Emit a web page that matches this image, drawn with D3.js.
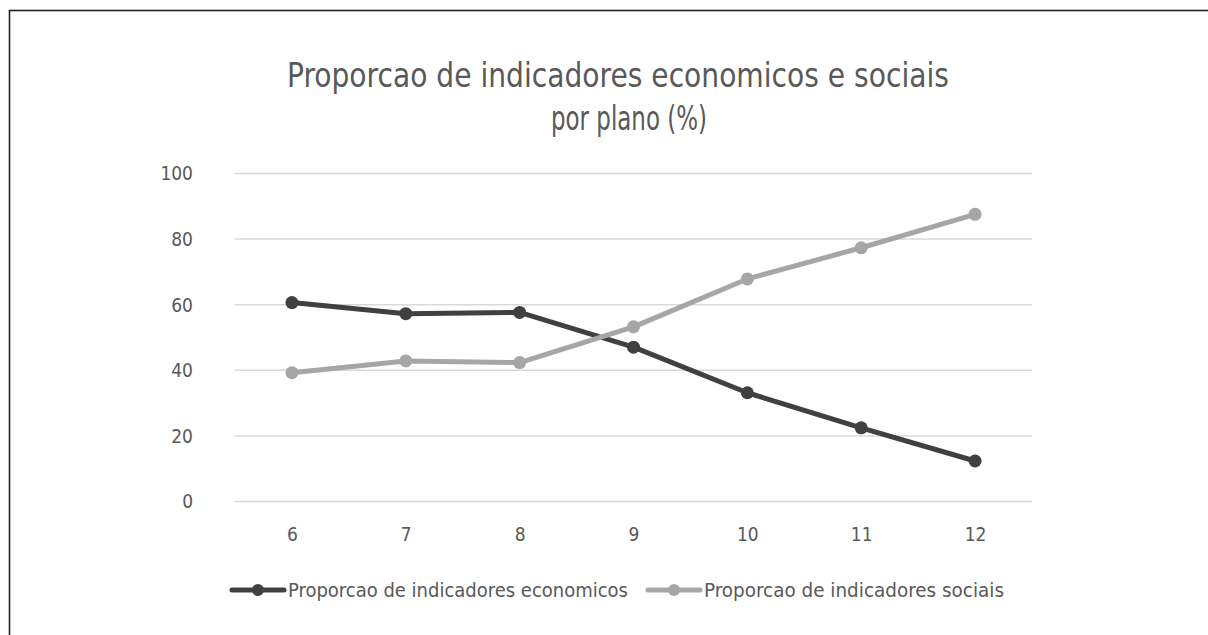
<!DOCTYPE html>
<html><head><meta charset="utf-8">
<script src="https://cdn.jsdelivr.net/npm/d3@7"></script>
<style>body{margin:0;background:#fff;}svg{display:block;}</style>
</head><body>
<svg id="c" width="1208" height="635"></svg>
<script>
const categories = ["6","7","8","9","10","11","12"];
const economicos = [60.5, 57.1, 57.5, 46.9, 33.0, 22.3, 12.2];
const sociais = [39.1, 42.7, 42.2, 53.1, 67.7, 77.2, 87.4];
const yTicks = [0, 20, 40, 60, 80, 100];
const seriesNames = ["Proporcao de indicadores economicos", "Proporcao de indicadores sociais"];
const titleLines = ["Proporcao de indicadores economicos e sociais", "por plano (%)"];

const svg = d3.select("#c");
const font = "'Liberation Sans Narrow', 'DejaVu Sans Condensed', 'Open Sans', sans-serif";
const txt = "#595959";

svg.append("rect").attr("x", 9.5).attr("y", 10.5).attr("width", 1250).attr("height", 700)
  .attr("fill", "#fff").attr("stroke", "#222").attr("stroke-width", 1.6);

const x = d3.scalePoint().domain(categories).range([235, 1032]).padding(0.5);
const y = d3.scaleLinear().domain([0, 100]).range([501, 173]);

const yAxis = d3.axisLeft(y).tickValues(yTicks).tickSize(-(1032 - 235)).tickPadding(20);
const gy = svg.append("g").attr("transform", "translate(235,0)").call(yAxis);
gy.attr("font-size", null).attr("font-family", null);
gy.select(".domain").remove();
gy.selectAll(".tick line").attr("stroke", "#d9d9d9").attr("stroke-width", 1.5);
gy.selectAll(".tick text").attr("fill", txt).style("font-family", font).style("font-size", "19px")
  .attr("x", -42).attr("text-anchor", "end").attr("dy", "0.36em");

const xAxis = d3.axisBottom(x).tickSize(0).tickPadding(27);
const gx = svg.append("g").attr("transform", "translate(0,501)").call(xAxis);
gx.attr("font-size", null).attr("font-family", null);
gx.select(".domain").remove();
gx.selectAll(".tick text").attr("fill", txt).style("font-family", font).style("font-size", "19px");

svg.append("text").attr("x", 618).attr("y", 87).attr("text-anchor", "middle")
  .attr("fill", txt).style("font-family", font).style("font-size", "33px")
  .attr("textLength", 662).attr("lengthAdjust", "spacingAndGlyphs").text(titleLines[0]);
svg.append("text").attr("x", 629).attr("y", 130).attr("text-anchor", "middle")
  .attr("fill", txt).style("font-family", font).style("font-size", "33px")
  .attr("textLength", 156).attr("lengthAdjust", "spacingAndGlyphs").text(titleLines[1]);

const series = [
  {name: seriesNames[0], values: economicos, color: "#404040"},
  {name: seriesNames[1], values: sociais, color: "#a6a6a6"}
];
const line = d3.line().x((d, i) => x(categories[i])).y(d => y(d));

series.forEach(s => {
  svg.append("path").datum(s.values).attr("d", line).attr("fill", "none")
    .attr("stroke", s.color).attr("stroke-width", 5).attr("stroke-linejoin", "round");
  svg.append("g").selectAll("circle").data(s.values).join("circle")
    .attr("cx", (d, i) => x(categories[i])).attr("cy", d => y(d)).attr("r", 6.5).attr("fill", s.color);
});

const legend = [
  {x0: 232, tx: 288, tl: 340},
  {x0: 648, tx: 704, tl: 300}
];
series.forEach((s, i) => {
  const L = legend[i];
  svg.append("line").attr("x1", L.x0).attr("x2", L.x0 + 52).attr("y1", 590).attr("y2", 590)
    .attr("stroke", s.color).attr("stroke-width", 5).attr("stroke-linecap", "round");
  svg.append("circle").attr("cx", L.x0 + 26).attr("cy", 590).attr("r", 6).attr("fill", s.color);
  svg.append("text").attr("x", L.tx).attr("y", 597).attr("fill", txt)
    .style("font-family", font).style("font-size", "20px")
    .attr("textLength", L.tl).attr("lengthAdjust", "spacingAndGlyphs").text(s.name);
});
</script>
</body></html>
